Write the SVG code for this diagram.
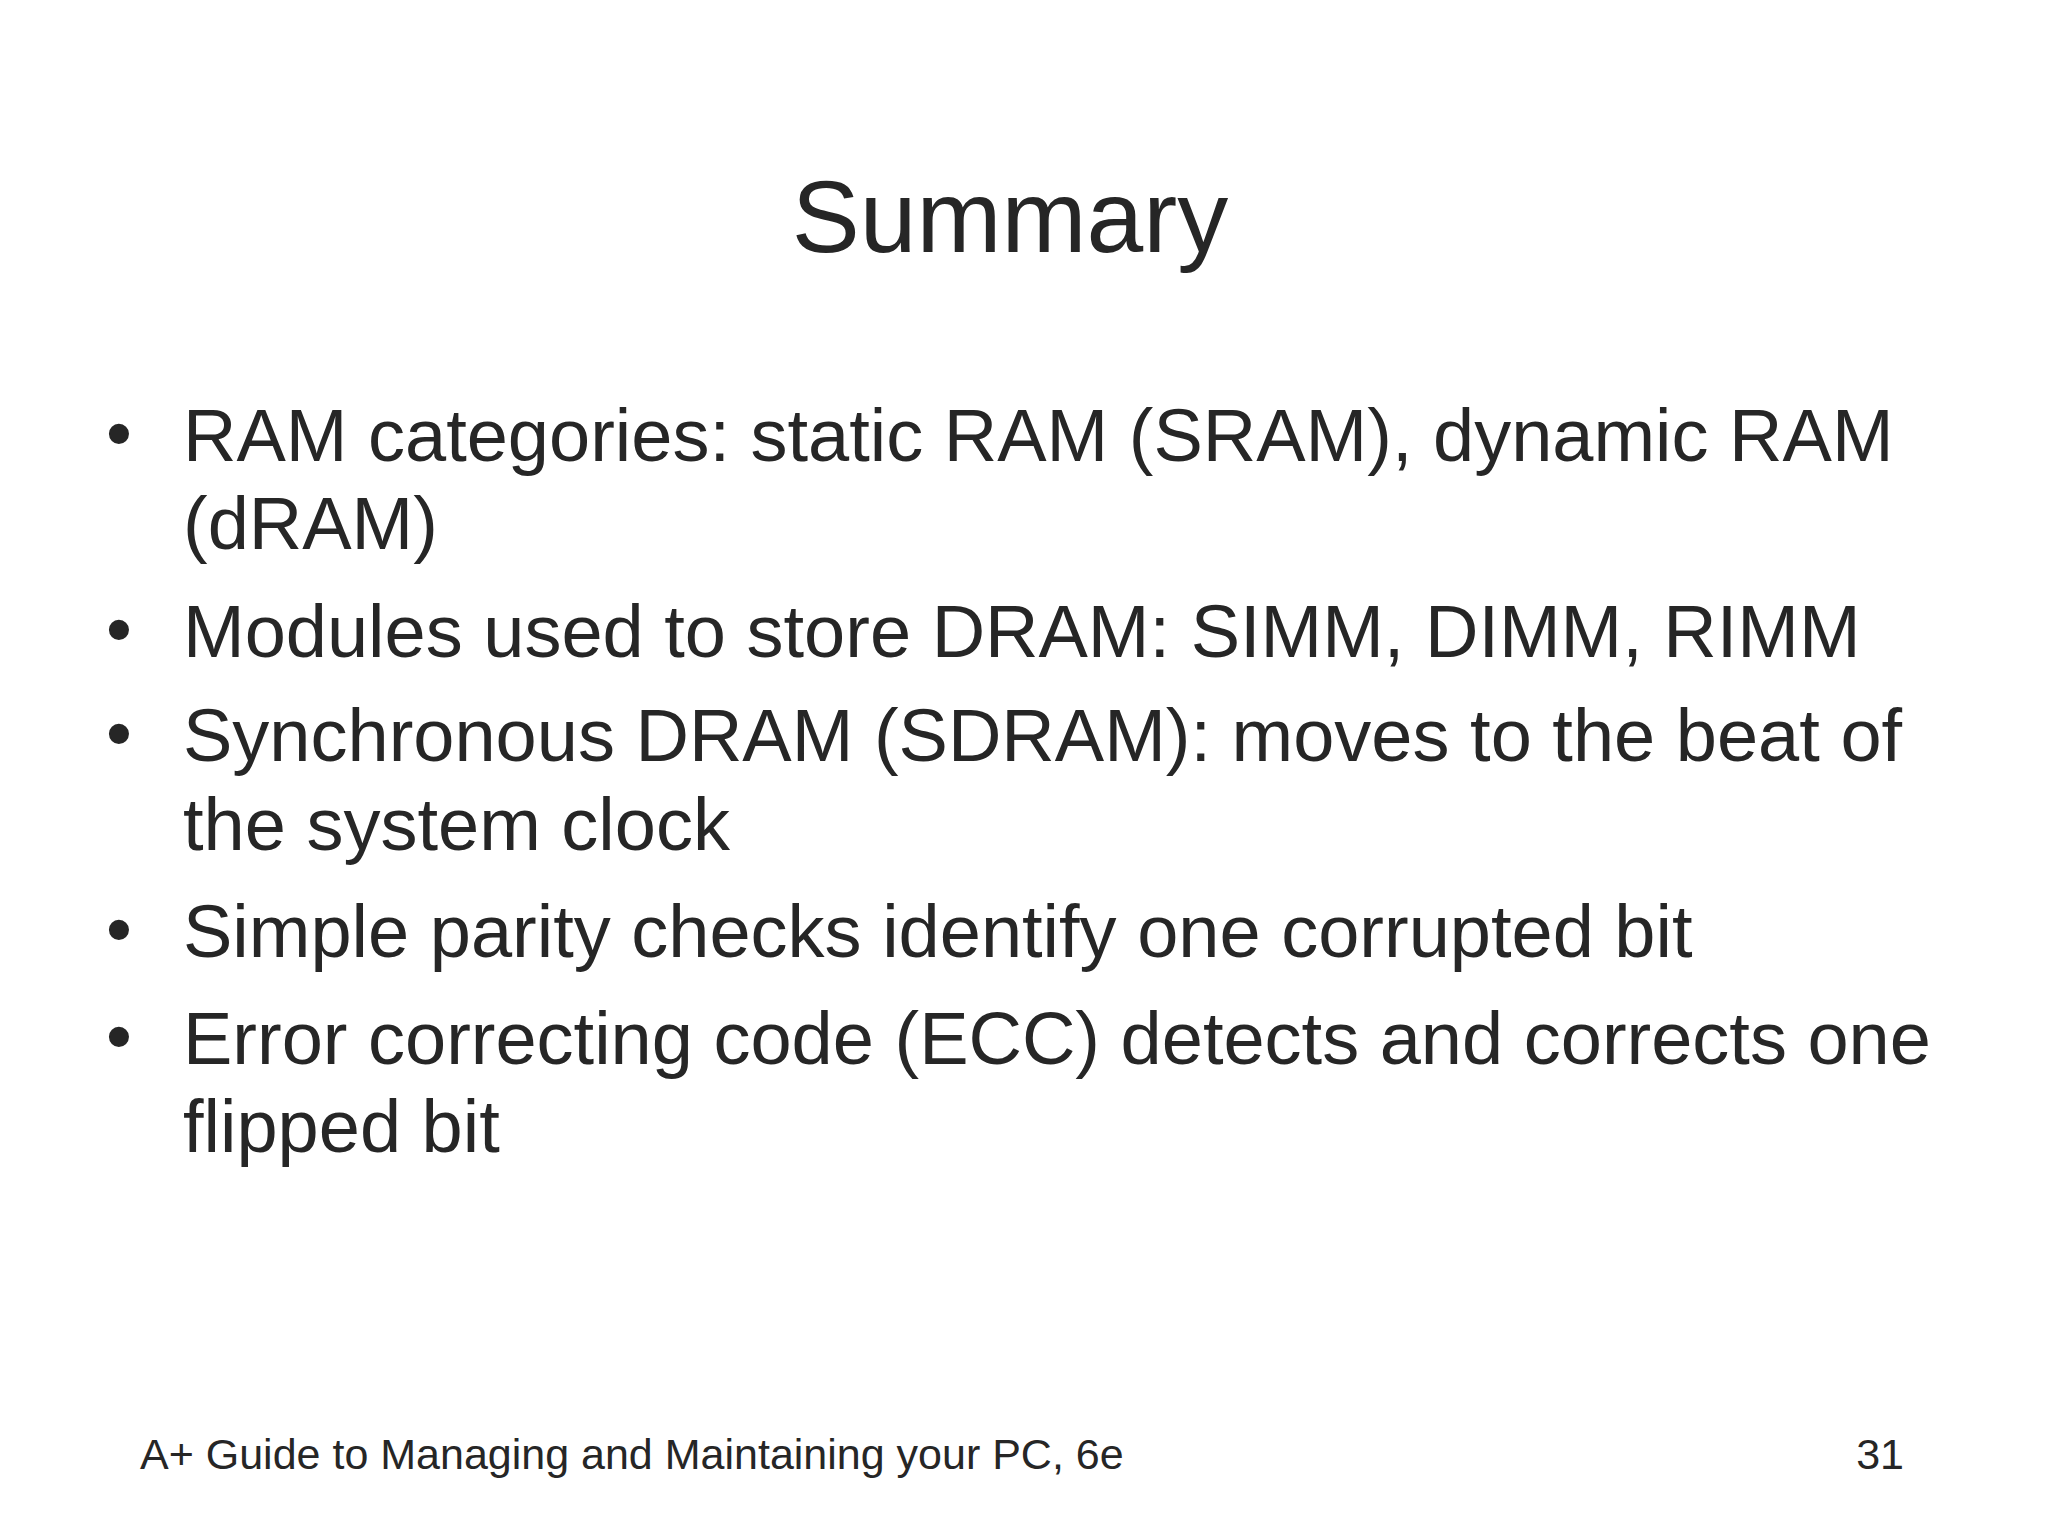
<svg xmlns="http://www.w3.org/2000/svg" width="2048" height="1536" viewBox="0 0 2048 1536">
<style>
text{font-family:"Liberation Sans",Arial,sans-serif;fill:#262626}
.b{font-size:74px}
.f{font-size:43px}
</style>
<rect width="2048" height="1536" fill="#fff"/>
<text x="1010" y="252" font-size="102" text-anchor="middle">Summary</text>
<g class="b">
<text x="106" y="459" class="b">•</text>
<text x="183" y="461" class="b">RAM categories: static RAM (SRAM), dynamic RAM</text>
<text x="183" y="549" class="b">(dRAM)</text>
<text x="106" y="655" class="b">•</text>
<text x="183" y="657" class="b">Modules used to store DRAM: SIMM, DIMM, RIMM</text>
<text x="106" y="759" class="b">•</text>
<text x="183" y="761" class="b">Synchronous DRAM (SDRAM): moves to the beat of</text>
<text x="183" y="850" class="b">the system clock</text>
<text x="106" y="955" class="b">•</text>
<text x="183" y="957" class="b">Simple parity checks identify one corrupted bit</text>
<text x="106" y="1062" class="b">•</text>
<text x="183" y="1064" class="b">Error correcting code (ECC) detects and corrects one</text>
<text x="183" y="1152" class="b">flipped bit</text>
</g>
<text x="140" y="1469" class="f">A+ Guide to Managing and Maintaining your PC, 6e</text>
<text x="1904" y="1469" class="f" text-anchor="end">31</text>
</svg>
